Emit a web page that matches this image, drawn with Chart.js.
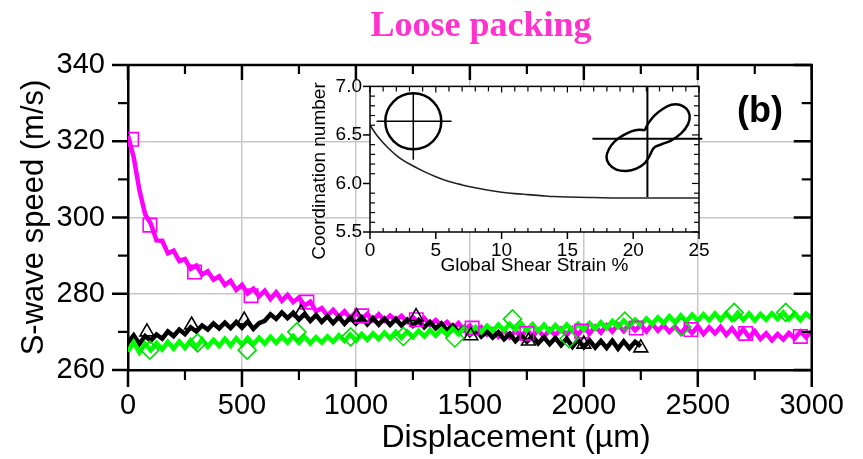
<!DOCTYPE html>
<html><head><meta charset="utf-8">
<script src="https://cdn.jsdelivr.net/npm/chart.js@4.4.1/dist/chart.umd.min.js"></script>
<style>
html,body{margin:0;padding:0;background:#fff;}
#wrap{position:relative;width:863px;height:459px;overflow:hidden;}
#main{position:absolute;left:0;top:0;}
#inset{position:absolute;left:305px;top:67px;}
</style></head><body>
<div id="wrap"><canvas id="main" width="863" height="459"></canvas><canvas id="inset" width="415" height="211"></canvas></div>
<script>
// ---------- texts ----------
const chartTitle = "Loose packing";
const xAxisTitle = "Displacement (µm)";
const yAxisTitle = "S-wave speed (m/s)";
const panelLabel = "(b)";
const insetXTitle = "Global Shear Strain %";
const insetYTitle = "Coordination number";

// ---------- main data ----------
const displacementUm = [0,25,50,75,100,125,150,175,200,225,250,275,300,325,350,375,400,425,450,475,500,525,550,575,600,625,650,675,700,725,750,775,800,825,850,875,900,925,950,975,1000,1025,1050,1075,1100,1125,1150,1175,1200,1225,1250,1275,1300,1325,1350,1375,1400,1425,1450,1475,1500,1525,1550,1575,1600,1625,1650,1675,1700,1725,1750,1775,1800,1825,1850,1875,1900,1925,1950,1975,2000,2025,2050,2075,2100,2125,2150,2175,2200,2225,2250,2275,2300,2325,2350,2375,2400,2425,2450,2475,2500,2525,2550,2575,2600,2625,2650,2675,2700,2725,2750,2775,2800,2825,2850,2875,2900,2925,2950,2975,3000];

const magentaSpeed = [321.5,315.8,307.2,300.9,298.4,294.0,293.9,290.6,291.3,288.6,289.1,286.5,287.4,285.0,285.9,283.7,284.6,282.3,283.4,281.0,282.3,280.1,281.3,279.3,280.8,278.6,280.4,278.2,279.7,277.8,279.0,276.9,277.9,275.4,276.2,274.3,275.8,274.0,275.4,273.6,275.2,273.4,274.7,273.1,274.6,272.9,274.3,273.0,274.2,272.6,273.9,272.4,273.6,271.8,273.1,271.5,272.6,270.9,272.3,270.4,271.7,269.8,271.2,269.3,270.6,268.7,270.4,268.6,270.3,268.8,270.5,268.9,270.4,268.7,270.6,269.1,270.8,269.2,270.9,269.3,271.1,269.6,271.4,269.8,271.7,270.1,271.9,270.2,272.0,270.4,271.8,270.1,272.1,270.3,271.8,270.0,271.4,269.6,271.3,269.7,271.5,269.4,271.2,269.6,271.3,269.2,270.9,268.9,270.7,268.6,270.2,268.1,269.6,267.8,269.4,268.0,269.7,268.3,270.1,268.6,270.2];

const blackSpeed = [267.2,269.1,266.8,268.9,267.7,269.3,268.2,270.1,268.9,270.6,269.4,271.2,270.1,271.7,270.6,272.2,270.9,272.4,271.0,272.6,271.1,272.7,270.8,272.3,272.9,274.6,273.4,275.1,273.6,275.0,273.2,274.7,272.9,274.4,272.6,274.1,272.3,273.9,272.1,273.7,272.2,273.8,272.0,273.6,271.9,273.5,271.8,273.4,271.7,273.2,271.6,273.1,271.2,272.6,270.9,272.2,270.4,271.7,269.9,271.2,269.2,270.6,268.8,270.1,268.5,269.9,268.1,269.5,267.6,269.1,267.4,268.9,267.0,268.6,266.8,268.4,266.5,268.2,266.1,267.9,266.0,267.8,265.9,267.6,265.8,267.7,265.6,267.5,265.7,267.4,266.2];

const greenSpeed = [264.8,267.3,264.6,266.9,265.2,267.1,265.4,267.4,265.6,267.5,265.8,267.8,266.0,268.0,266.1,267.9,266.3,268.2,266.4,268.3,266.6,268.4,266.7,268.5,266.9,268.7,267.1,268.8,267.2,268.9,267.1,268.7,267.0,268.6,267.2,268.8,267.4,269.1,267.6,269.3,267.7,269.4,267.9,269.6,268.1,269.8,268.3,270.0,268.4,270.1,268.6,270.3,268.8,270.5,269.0,270.7,269.2,270.9,269.4,271.1,269.6,271.3,269.9,271.6,270.2,271.9,270.4,272.1,270.5,272.2,270.4,272.0,270.2,271.9,270.1,271.8,270.2,271.9,270.4,272.1,270.6,272.3,270.8,272.5,271.0,272.8,271.3,273.0,271.5,273.2,271.8,273.5,272.0,273.8,272.3,274.1,272.5,274.3,272.7,274.5,272.9,274.6,273.0,274.8,273.1,274.9,273.2,275.0,273.1,274.8,273.0,274.7,273.2,274.9,273.4,275.1,273.3,274.9,273.1,274.8,273.5];

// markers
const magentaSquareX = [16,96,292,540,785,1025,1265,1510,1750,1990,2230,2470,2710,2950];
const magentaSquareY = [320.5,298,285.7,279.5,277.8,274.2,273.2,271,269.6,270.2,271,270.6,269.6,268.8];
const blackTriangleX = [83,279,510,759,1003,1264,1504,1757,2000,2250];
const blackTriangleY = [270,271.8,273.1,275,274,274,269,267.6,266.8,265.8];
const greenDiamondX = [96,305,523,741,977,1208,1434,1687,1935,2180,2430,2660,2886];
const greenDiamondY = [265.2,267.1,265.2,270,268.7,268.8,268.4,273.4,268.2,272.8,271.3,275.1,275.1];

// axis ticks (main)
const xMajorTicks = [0,500,1000,1500,2000,2500,3000];
const xMinorTicks = [250,750,1250,1750,2250,2750];
const yMajorTicks = [260,280,300,320,340];
const yMinorTicks = [270,290,310,330];

// ---------- inset data ----------
const insetStrain = [0,0.5,1,1.5,2,2.5,3,4,5,6,7,8,9,10,11,12,13,14,15,17,20,25];
const insetCoord = [6.60,6.50,6.42,6.35,6.29,6.24,6.20,6.13,6.07,6.02,5.985,5.955,5.93,5.91,5.895,5.885,5.875,5.865,5.86,5.855,5.85,5.85];
const circleCenter = [3.29, 6.64];
const cross1HX = [0.5, 6.2],  cross1HY = [6.64, 6.64];
const cross1VX = [3.29, 3.29], cross1VY = [6.94, 6.245];
const cross2HX = [16.9, 25.25], cross2HY = [6.46, 6.46];
const cross2VX = [21.08, 21.08], cross2VY = [7.0, 5.86];
const peanutX = [20.88,21.13,21.63,22.27,22.90,23.53,24.04,24.29,24.16,23.66,22.90,22.14,21.58,21.26,20.88,20.24,19.48,18.72,18.17,17.97,18.17,18.60,19.23,19.86,20.45,20.88];
const peanutY = [6.547,6.616,6.701,6.770,6.811,6.811,6.770,6.701,6.609,6.519,6.444,6.403,6.368,6.289,6.210,6.152,6.128,6.142,6.197,6.272,6.358,6.434,6.495,6.537,6.554,6.547];
const insetXMajor = [0,5,10,15,20,25];
const insetXMinor = [1,2,3,4,6,7,8,9,11,12,13,14,16,17,18,19,21,22,23,24];
const insetYMajor = [5.5,6.0,6.5,7.0];
const insetYMinor = [5.6,5.7,5.8,5.9,6.1,6.2,6.3,6.4,6.6,6.7,6.8,6.9];

const toXY = (xs, ys) => ys.map((y, i) => ({x: xs[i], y: y}));

function tickLine(ctx, x, y, dx, dy, w) {
  ctx.lineWidth = w; ctx.beginPath(); ctx.moveTo(x, y); ctx.lineTo(x + dx, y + dy); ctx.stroke();
}

// ---------- main chart ----------
const mainDecor = {
  id: 'mainDecor',
  afterDraw(chart) {
    const {ctx, chartArea: a, scales: {x, y}} = chart;
    ctx.save();
    ctx.strokeStyle = '#000'; ctx.lineCap = 'butt';
    ctx.lineWidth = 2.5;
    ctx.beginPath(); ctx.moveTo(a.left, a.top); ctx.lineTo(a.right, a.top); ctx.lineTo(a.right, a.bottom); ctx.stroke();
    xMajorTicks.forEach(v => { const p = x.getPixelForValue(v); tickLine(ctx, p, a.bottom, 0, 17, 2.5); tickLine(ctx, p, a.top, 0, 15, 2.5); });
    xMinorTicks.forEach(v => { const p = x.getPixelForValue(v); tickLine(ctx, p, a.bottom, 0, 10, 2.2); tickLine(ctx, p, a.top, 0, 9, 2.2); });
    yMajorTicks.forEach(v => { const p = y.getPixelForValue(v); tickLine(ctx, a.left, p, -16, 0, 2.5); tickLine(ctx, a.right, p, -18, 0, 2.5); });
    yMinorTicks.forEach(v => { const p = y.getPixelForValue(v); tickLine(ctx, a.left, p, -10, 0, 2.2); tickLine(ctx, a.right, p, -10, 0, 2.2); });
    // texts
    ctx.fillStyle = '#ff33cc';
    ctx.font = 'bold 36px "Liberation Serif"';
    ctx.textAlign = 'center'; ctx.textBaseline = 'alphabetic';
    ctx.fillText(chartTitle, 481, 36);
    ctx.fillStyle = '#000';
    ctx.font = '32px "Liberation Sans"';
    ctx.textBaseline = 'middle';
    ctx.fillText(xAxisTitle, 516, 438);
    ctx.font = 'bold 36px "Liberation Sans"';
    ctx.textBaseline = 'alphabetic';
    ctx.fillText(panelLabel, 760, 122);
    ctx.restore();
  }
};

const markerDs = (xs, ys, color, style, r) => ({
  data: toXY(xs, ys), showLine: false, pointStyle: style, pointRadius: r,
  pointBorderWidth: 1.6, pointBorderColor: color, pointBackgroundColor: 'rgba(0,0,0,0)', borderColor: color
});
const lineDs = (ys, color) => ({
  data: toXY(displacementUm, ys), borderColor: color, borderWidth: 4.5, pointRadius: 0, tension: 0, fill: false,
  borderJoinStyle: 'miter'
});

new Chart(document.getElementById('main'), {
  type: 'line',
  data: { datasets: [
    markerDs(greenDiamondX, greenDiamondY, '#00e000', 'rectRot', 9),
    markerDs(blackTriangleX, blackTriangleY, '#000', 'triangle', 8),
    markerDs(magentaSquareX, magentaSquareY, '#ff00ff', 'rect', 9.5),
    lineDs(greenSpeed, '#00ff00'),
    lineDs(blackSpeed, '#000000'),
    lineDs(magentaSpeed, '#ff00ff')
  ]},
  options: {
    responsive: false, animation: false, events: [],
    layout: { autoPadding: false, padding: { top: 65, right: 47, left: 0, bottom: 0 } },
    plugins: { legend: { display: false }, tooltip: { enabled: false } },
    scales: {
      x: {
        type: 'linear', min: 0, max: 3000,
        ticks: { stepSize: 500, autoSkip: false, maxRotation: 0, color: '#000', padding: 19, font: { family: 'Liberation Sans', size: 29 }, callback: v => String(v) },
        grid: { color: '#c8c8c8', lineWidth: 1.5, drawTicks: false },
        border: { display: true, color: '#000', width: 2.5 },
        afterFit(s) { s.height = 89; }
      },
      y: {
        type: 'linear', min: 260, max: 340,
        ticks: { stepSize: 20, color: '#000', padding: 23, font: { family: 'Liberation Sans', size: 29 }, callback: v => String(v) },
        grid: { color: '#c8c8c8', lineWidth: 1.5, drawTicks: false },
        border: { display: true, color: '#000', width: 2.5 },
        title: { display: true, text: yAxisTitle, color: '#000', font: { family: 'Liberation Sans', size: 31 }, padding: { top: 16, bottom: 0 } },
        afterFit(s) { s.width = 128; }
      }
    }
  },
  plugins: [mainDecor]
});

// ---------- inset chart ----------
const insetDecor = {
  id: 'insetDecor',
  beforeDraw(chart) {
    const {ctx, chartArea: a} = chart;
    ctx.save(); ctx.fillStyle = '#fff';
    ctx.fillRect(a.left, a.top, a.right - a.left, a.bottom - a.top);
    ctx.restore();
  },
  afterDraw(chart) {
    const {ctx, chartArea: a, scales: {x, y}} = chart;
    ctx.save();
    ctx.strokeStyle = '#000'; ctx.lineWidth = 1.5;
    ctx.strokeRect(a.left, a.top, a.right - a.left, a.bottom - a.top);
    insetXMajor.forEach(v => { const p = x.getPixelForValue(v); tickLine(ctx, p, a.bottom, 0, 7, 1.5); tickLine(ctx, p, a.top, 0, 6, 1.2); });
    insetXMinor.forEach(v => { const p = x.getPixelForValue(v); tickLine(ctx, p, a.bottom, 0, -4, 1.2); tickLine(ctx, p, a.top, 0, 5, 1.2); });
    insetYMajor.forEach(v => { const p = y.getPixelForValue(v); tickLine(ctx, a.left, p, -7, 0, 1.5); tickLine(ctx, a.right, p, -7, 0, 1.2); });
    insetYMinor.forEach(v => { const p = y.getPixelForValue(v); tickLine(ctx, a.left, p, 5, 0, 1.2); tickLine(ctx, a.right, p, -5, 0, 1.2); });
    ctx.fillStyle = '#000';
    ctx.font = '19px "Liberation Sans"';
    ctx.textAlign = 'center'; ctx.textBaseline = 'middle';
    ctx.translate(15, 104); ctx.rotate(-Math.PI / 2);
    ctx.fillText(insetYTitle, 0, 0);
    ctx.restore();
  }
};

const segDs = (xs, ys, w) => ({ data: toXY(xs, ys), borderColor: '#000', borderWidth: w, pointRadius: 0, tension: 0, clip: false });

new Chart(document.getElementById('inset'), {
  type: 'line',
  data: { datasets: [
    { data: toXY(insetStrain, insetCoord), borderColor: '#222', borderWidth: 1.6, pointRadius: 0, cubicInterpolationMode: 'monotone' },
    { data: [{x: circleCenter[0], y: circleCenter[1]}], showLine: false, pointStyle: 'circle', pointRadius: 28, pointBorderWidth: 2.5, pointBorderColor: '#000', pointBackgroundColor: 'rgba(0,0,0,0)', clip: false },
    segDs(cross1HX, cross1HY, 1.5),
    segDs(cross1VX, cross1VY, 1.5),
    segDs(cross2HX, cross2HY, 2),
    segDs(cross2VX, cross2VY, 2),
    { data: toXY(peanutX, peanutY), borderColor: '#000', borderWidth: 2.5, pointRadius: 0, tension: 0.35, clip: false }
  ]},
  options: {
    responsive: false, animation: false, events: [],
    layout: { autoPadding: false, padding: { top: 8, right: 21, left: 0, bottom: 0 } },
    plugins: { legend: { display: false }, tooltip: { enabled: false } },
    scales: {
      x: {
        type: 'linear', min: 0, max: 25,
        ticks: { stepSize: 5, autoSkip: false, maxRotation: 0, color: '#000', padding: 7, font: { family: 'Liberation Sans', size: 19 } },
        grid: { display: false, drawTicks: false },
        border: { display: false },
        title: { display: true, text: insetXTitle, color: '#000', font: { family: 'Liberation Sans', size: 19 }, padding: { top: 0, bottom: 1 } },
        afterFit(s) { s.height = 46; }
      },
      y: {
        type: 'linear', min: 5.5, max: 7.0,
        ticks: { stepSize: 0.5, color: '#000', padding: 8, font: { family: 'Liberation Sans', size: 19 }, callback: v => Number(v).toFixed(1) },
        grid: { display: false, drawTicks: false },
        border: { display: false },
        afterFit(s) { s.width = 65; }
      }
    }
  },
  plugins: [insetDecor]
});
</script>
</body></html>
